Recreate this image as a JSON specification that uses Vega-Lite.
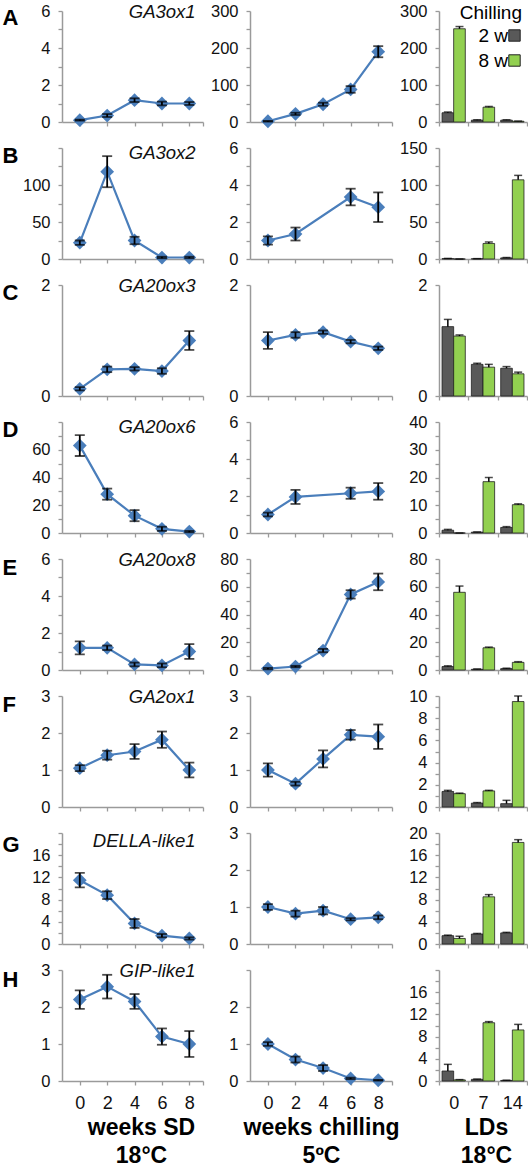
{
"$schema":"https://vega.github.io/schema/vega-lite/v6.json",
"padding":{"left":2,"top":3,"right":0,"bottom":0},
"datasets":{
"L":[
{"g":"GA3ox1","c":"SD","w":0,"v":0.1,"e":0.03},{"g":"GA3ox1","c":"SD","w":2,"v":0.35,"e":0.08},{"g":"GA3ox1","c":"SD","w":4,"v":1.18,"e":0.1},{"g":"GA3ox1","c":"SD","w":6,"v":1.0,"e":0.1},{"g":"GA3ox1","c":"SD","w":8,"v":1.0,"e":0.08},
{"g":"GA3ox1","c":"CH","w":0,"v":2,"e":1},{"g":"GA3ox1","c":"CH","w":2,"v":22,"e":3},{"g":"GA3ox1","c":"CH","w":4,"v":48,"e":4},{"g":"GA3ox1","c":"CH","w":6,"v":88,"e":9},{"g":"GA3ox1","c":"CH","w":8,"v":190,"e":15},
{"g":"GA3ox2","c":"SD","w":0,"v":22,"e":3},{"g":"GA3ox2","c":"SD","w":2,"v":118,"e":21},{"g":"GA3ox2","c":"SD","w":4,"v":25,"e":5},{"g":"GA3ox2","c":"SD","w":6,"v":2,"e":1},{"g":"GA3ox2","c":"SD","w":8,"v":2,"e":1},
{"g":"GA3ox2","c":"CH","w":0,"v":1.0,"e":0.22},{"g":"GA3ox2","c":"CH","w":2,"v":1.35,"e":0.35},{"g":"GA3ox2","c":"CH","w":6,"v":3.35,"e":0.45},{"g":"GA3ox2","c":"CH","w":8,"v":2.8,"e":0.8},
{"g":"GA20ox3","c":"SD","w":0,"v":0.13,"e":0.03},{"g":"GA20ox3","c":"SD","w":2,"v":0.48,"e":0.05},{"g":"GA20ox3","c":"SD","w":4,"v":0.49,"e":0.03},{"g":"GA20ox3","c":"SD","w":6,"v":0.45,"e":0.05},{"g":"GA20ox3","c":"SD","w":8,"v":1.0,"e":0.17},
{"g":"GA20ox3","c":"CH","w":0,"v":1.0,"e":0.15},{"g":"GA20ox3","c":"CH","w":2,"v":1.1,"e":0.05},{"g":"GA20ox3","c":"CH","w":4,"v":1.15,"e":0.03},{"g":"GA20ox3","c":"CH","w":6,"v":0.98,"e":0.03},{"g":"GA20ox3","c":"CH","w":8,"v":0.86,"e":0.03},
{"g":"GA20ox6","c":"SD","w":0,"v":63,"e":7.5},{"g":"GA20ox6","c":"SD","w":2,"v":28,"e":4},{"g":"GA20ox6","c":"SD","w":4,"v":12.5,"e":4},{"g":"GA20ox6","c":"SD","w":6,"v":3,"e":1.5},{"g":"GA20ox6","c":"SD","w":8,"v":1,"e":0.5},
{"g":"GA20ox6","c":"CH","w":0,"v":1.0,"e":0.1},{"g":"GA20ox6","c":"CH","w":2,"v":1.95,"e":0.38},{"g":"GA20ox6","c":"CH","w":6,"v":2.15,"e":0.3},{"g":"GA20ox6","c":"CH","w":8,"v":2.25,"e":0.45},
{"g":"GA20ox8","c":"SD","w":0,"v":1.2,"e":0.35},{"g":"GA20ox8","c":"SD","w":2,"v":1.2,"e":0.12},{"g":"GA20ox8","c":"SD","w":4,"v":0.3,"e":0.1},{"g":"GA20ox8","c":"SD","w":6,"v":0.25,"e":0.1},{"g":"GA20ox8","c":"SD","w":8,"v":1.0,"e":0.4},
{"g":"GA20ox8","c":"CH","w":0,"v":1,"e":0.5},{"g":"GA20ox8","c":"CH","w":2,"v":2.5,"e":0.5},{"g":"GA20ox8","c":"CH","w":4,"v":14,"e":1.2},{"g":"GA20ox8","c":"CH","w":6,"v":54.5,"e":3},{"g":"GA20ox8","c":"CH","w":8,"v":63.5,"e":6},
{"g":"GA2ox1","c":"SD","w":0,"v":1.05,"e":0.08},{"g":"GA2ox1","c":"SD","w":2,"v":1.4,"e":0.12},{"g":"GA2ox1","c":"SD","w":4,"v":1.5,"e":0.2},{"g":"GA2ox1","c":"SD","w":6,"v":1.82,"e":0.22},{"g":"GA2ox1","c":"SD","w":8,"v":1.0,"e":0.2},
{"g":"GA2ox1","c":"CH","w":0,"v":1.0,"e":0.18},{"g":"GA2ox1","c":"CH","w":2,"v":0.63,"e":0.05},{"g":"GA2ox1","c":"CH","w":4,"v":1.3,"e":0.23},{"g":"GA2ox1","c":"CH","w":6,"v":1.95,"e":0.13},{"g":"GA2ox1","c":"CH","w":8,"v":1.9,"e":0.33},
{"g":"DELLA-like1","c":"SD","w":0,"v":11.5,"e":1.3},{"g":"DELLA-like1","c":"SD","w":2,"v":8.8,"e":0.7},{"g":"DELLA-like1","c":"SD","w":4,"v":3.7,"e":0.8},{"g":"DELLA-like1","c":"SD","w":6,"v":1.5,"e":0.3},{"g":"DELLA-like1","c":"SD","w":8,"v":1.0,"e":0.2},
{"g":"DELLA-like1","c":"CH","w":0,"v":1.0,"e":0.08},{"g":"DELLA-like1","c":"CH","w":2,"v":0.82,"e":0.08},{"g":"DELLA-like1","c":"CH","w":4,"v":0.9,"e":0.1},{"g":"DELLA-like1","c":"CH","w":6,"v":0.67,"e":0.03},{"g":"DELLA-like1","c":"CH","w":8,"v":0.72,"e":0.05},
{"g":"GIP-like1","c":"SD","w":0,"v":2.2,"e":0.25},{"g":"GIP-like1","c":"SD","w":2,"v":2.55,"e":0.32},{"g":"GIP-like1","c":"SD","w":4,"v":2.15,"e":0.2},{"g":"GIP-like1","c":"SD","w":6,"v":1.2,"e":0.22},{"g":"GIP-like1","c":"SD","w":8,"v":1.0,"e":0.35},
{"g":"GIP-like1","c":"CH","w":0,"v":1.0,"e":0.05},{"g":"GIP-like1","c":"CH","w":2,"v":0.58,"e":0.08},{"g":"GIP-like1","c":"CH","w":4,"v":0.35,"e":0.08},{"g":"GIP-like1","c":"CH","w":6,"v":0.07,"e":0.02},{"g":"GIP-like1","c":"CH","w":8,"v":0.02,"e":0.01}
],
"B":[
{"g":"GA3ox1","d":"0","ch":"2 w","v":25,"hi":27},{"g":"GA3ox1","d":"0","ch":"8 w","v":252,"hi":258},{"g":"GA3ox1","d":"7","ch":"2 w","v":5,"hi":6},{"g":"GA3ox1","d":"7","ch":"8 w","v":40,"hi":42},{"g":"GA3ox1","d":"14","ch":"2 w","v":5,"hi":6},{"g":"GA3ox1","d":"14","ch":"8 w","v":2,"hi":2.5},
{"g":"GA3ox2","d":"0","ch":"2 w","v":0.5,"hi":0.8},{"g":"GA3ox2","d":"0","ch":"8 w","v":0,"hi":0},{"g":"GA3ox2","d":"7","ch":"2 w","v":0.3,"hi":0.5},{"g":"GA3ox2","d":"7","ch":"8 w","v":21,"hi":23},{"g":"GA3ox2","d":"14","ch":"2 w","v":1.5,"hi":2},{"g":"GA3ox2","d":"14","ch":"8 w","v":107,"hi":113},
{"g":"GA20ox3","d":"0","ch":"2 w","v":1.25,"hi":1.38},{"g":"GA20ox3","d":"0","ch":"8 w","v":1.08,"hi":1.1},{"g":"GA20ox3","d":"7","ch":"2 w","v":0.57,"hi":0.59},{"g":"GA20ox3","d":"7","ch":"8 w","v":0.52,"hi":0.57},{"g":"GA20ox3","d":"14","ch":"2 w","v":0.5,"hi":0.53},{"g":"GA20ox3","d":"14","ch":"8 w","v":0.4,"hi":0.43},
{"g":"GA20ox6","d":"0","ch":"2 w","v":1,"hi":1.3},{"g":"GA20ox6","d":"0","ch":"8 w","v":0,"hi":0},{"g":"GA20ox6","d":"7","ch":"2 w","v":0.3,"hi":0.4},{"g":"GA20ox6","d":"7","ch":"8 w","v":18.5,"hi":20},{"g":"GA20ox6","d":"14","ch":"2 w","v":2,"hi":2.3},{"g":"GA20ox6","d":"14","ch":"8 w","v":10.2,"hi":10.5},
{"g":"GA20ox8","d":"0","ch":"2 w","v":2.5,"hi":3},{"g":"GA20ox8","d":"0","ch":"8 w","v":56,"hi":60.5},{"g":"GA20ox8","d":"7","ch":"2 w","v":0.5,"hi":0.8},{"g":"GA20ox8","d":"7","ch":"8 w","v":16,"hi":16.5},{"g":"GA20ox8","d":"14","ch":"2 w","v":1,"hi":1.3},{"g":"GA20ox8","d":"14","ch":"8 w","v":5.5,"hi":6},
{"g":"GA2ox1","d":"0","ch":"2 w","v":1.4,"hi":1.5},{"g":"GA2ox1","d":"0","ch":"8 w","v":1.2,"hi":1.25},{"g":"GA2ox1","d":"7","ch":"2 w","v":0.35,"hi":0.4},{"g":"GA2ox1","d":"7","ch":"8 w","v":1.45,"hi":1.5},{"g":"GA2ox1","d":"14","ch":"2 w","v":0.3,"hi":0.6},{"g":"GA2ox1","d":"14","ch":"8 w","v":9.5,"hi":10},
{"g":"DELLA-like1","d":"0","ch":"2 w","v":1.5,"hi":1.6},{"g":"DELLA-like1","d":"0","ch":"8 w","v":1.0,"hi":1.4},{"g":"DELLA-like1","d":"7","ch":"2 w","v":1.8,"hi":1.9},{"g":"DELLA-like1","d":"7","ch":"8 w","v":8.5,"hi":8.9},{"g":"DELLA-like1","d":"14","ch":"2 w","v":2,"hi":2.1},{"g":"DELLA-like1","d":"14","ch":"8 w","v":18.3,"hi":18.8},
{"g":"GIP-like1","d":"0","ch":"2 w","v":1.8,"hi":3.0},{"g":"GIP-like1","d":"0","ch":"8 w","v":0.2,"hi":0.25},{"g":"GIP-like1","d":"7","ch":"2 w","v":0.3,"hi":0.35},{"g":"GIP-like1","d":"7","ch":"8 w","v":10.5,"hi":10.7},{"g":"GIP-like1","d":"14","ch":"2 w","v":0.1,"hi":0.15},{"g":"GIP-like1","d":"14","ch":"8 w","v":9.2,"hi":10.2}
]
},
"columns":3,
"bounds":"flush",
"align":"each",
"spacing":{"row":26,"column":47},
"concat":[
{"data":{"name":"L"},"transform":[{"filter":"datum.g=='GA3ox1'&&datum.c=='SD'"}],"width":141,"height":111,"title":{"text":"GA3ox1"},
 "encoding":{"x":{"field":"w","type":"quantitative","scale":{"domain":[-1.3,9],"nice":false,"zero":false},"axis":{"values":[0,2,4,6,8,9],"labels":false,"title":null}},
 "y":{"field":"v","type":"quantitative","scale":{"domain":[0,6],"nice":false},"axis":{"values":[0,1,2,3,4,5,6],"format":"d","labelExpr":"datum.value%2?'':datum.label","title":"A","titleY":13}}},
 "layer":[{"mark":{"type":"line","color":"#4A7EBB","strokeWidth":2.2}},{"mark":{"type":"point","shape":"diamond","filled":true,"size":190,"color":"#4A7EBB","opacity":1}},{"mark":{"type":"errorbar","color":"black","thickness":1.8,"ticks":{"size":10,"color":"black","thickness":1.8}},"encoding":{"yError":{"field":"e"}}}]},
{"data":{"name":"L"},"transform":[{"filter":"datum.g=='GA3ox1'&&datum.c=='CH'"}],"width":142,"height":111,
 "encoding":{"x":{"field":"w","type":"quantitative","scale":{"domain":[-1.3,9],"nice":false,"zero":false},"axis":{"values":[0,2,4,6,8,9],"labels":false,"title":null}},
 "y":{"field":"v","type":"quantitative","scale":{"domain":[0,300],"nice":false},"axis":{"values":[0,50,100,150,200,250,300],"format":"d","labelExpr":"datum.value%100?'':datum.label","title":null}}},
 "layer":[{"mark":{"type":"line","color":"#4A7EBB","strokeWidth":2.2}},{"mark":{"type":"point","shape":"diamond","filled":true,"size":190,"color":"#4A7EBB","opacity":1}},{"mark":{"type":"errorbar","color":"black","thickness":1.8,"ticks":{"size":10,"color":"black","thickness":1.8}},"encoding":{"yError":{"field":"e"}}}]},
{"data":{"name":"B"},"transform":[{"filter":"datum.g=='GA3ox1'"}],"width":88,"height":111,
 "encoding":{"x":{"field":"d","type":"nominal","sort":["0","7","14"],"scale":{"paddingInner":0,"paddingOuter":0},"axis":{"tickBand":"extent","labels":false,"title":null}},
 "xOffset":{"field":"ch","type":"nominal","scale":{"paddingInner":0,"paddingOuter":0.26}},
 "y":{"field":"v","type":"quantitative","scale":{"domain":[0,300],"nice":false},"axis":{"values":[0,50,100,150,200,250,300],"format":"d","labelExpr":"datum.value%100?'':datum.label","title":null}}},
 "layer":[{"mark":{"type":"bar","stroke":"#222","strokeWidth":0.8},"encoding":{"color":{"field":"ch","type":"nominal","scale":{"domain":["2 w","8 w"],"range":["#595959","#92D050"]},"legend":{"title":"Chilling","orient":"none","legendX":398,"legendY":-7,"titleAnchor":"end","titleFontSize":19,"titleFontWeight":"normal","titleColor":"#000","titlePadding":3,"labelFontSize":19,"labelColor":"#000","symbolType":"square","symbolSize":130,"symbolStrokeColor":"#222","symbolStrokeWidth":1,"labelAlign":"right","labelOffset":-16,"rowPadding":5}}}},
 {"mark":{"type":"rule","color":"black","strokeWidth":1.5},"encoding":{"y2":{"field":"hi"}}},
 {"mark":{"type":"tick","color":"black","size":8,"thickness":1.5},"encoding":{"y":{"field":"hi","type":"quantitative","scale":{"domain":[0,300],"nice":false},"title":null}}}]},

{"data":{"name":"L"},"transform":[{"filter":"datum.g=='GA3ox2'&&datum.c=='SD'"}],"width":141,"height":111,"title":{"text":"GA3ox2"},
 "encoding":{"x":{"field":"w","type":"quantitative","scale":{"domain":[-1.3,9],"nice":false,"zero":false},"axis":{"values":[0,2,4,6,8,9],"labels":false,"title":null}},
 "y":{"field":"v","type":"quantitative","scale":{"domain":[0,150],"nice":false},"axis":{"values":[0,25,50,75,100,125,150],"format":"d","labelExpr":"datum.value%50||datum.value==150?'':datum.label","title":"B","titleY":14}}},
 "layer":[{"mark":{"type":"line","color":"#4A7EBB","strokeWidth":2.2}},{"mark":{"type":"point","shape":"diamond","filled":true,"size":190,"color":"#4A7EBB","opacity":1}},{"mark":{"type":"errorbar","color":"black","thickness":1.8,"ticks":{"size":10,"color":"black","thickness":1.8}},"encoding":{"yError":{"field":"e"}}}]},
{"data":{"name":"L"},"transform":[{"filter":"datum.g=='GA3ox2'&&datum.c=='CH'"}],"width":142,"height":111,
 "encoding":{"x":{"field":"w","type":"quantitative","scale":{"domain":[-1.3,9],"nice":false,"zero":false},"axis":{"values":[0,2,4,6,8,9],"labels":false,"title":null}},
 "y":{"field":"v","type":"quantitative","scale":{"domain":[0,6],"nice":false},"axis":{"values":[0,1,2,3,4,5,6],"format":"d","labelExpr":"datum.value%2?'':datum.label","title":null}}},
 "layer":[{"mark":{"type":"line","color":"#4A7EBB","strokeWidth":2.2}},{"mark":{"type":"point","shape":"diamond","filled":true,"size":190,"color":"#4A7EBB","opacity":1}},{"mark":{"type":"errorbar","color":"black","thickness":1.8,"ticks":{"size":10,"color":"black","thickness":1.8}},"encoding":{"yError":{"field":"e"}}}]},
{"data":{"name":"B"},"transform":[{"filter":"datum.g=='GA3ox2'"}],"width":88,"height":111,
 "encoding":{"x":{"field":"d","type":"nominal","sort":["0","7","14"],"scale":{"paddingInner":0,"paddingOuter":0},"axis":{"tickBand":"extent","labels":false,"title":null}},
 "xOffset":{"field":"ch","type":"nominal","scale":{"paddingInner":0,"paddingOuter":0.26}},
 "y":{"field":"v","type":"quantitative","scale":{"domain":[0,150],"nice":false},"axis":{"values":[0,25,50,75,100,125,150],"format":"d","labelExpr":"datum.value%50?'':datum.label","title":null}}},
 "layer":[{"mark":{"type":"bar","stroke":"#222","strokeWidth":0.8},"encoding":{"color":{"field":"ch","type":"nominal"}}},
 {"mark":{"type":"rule","color":"black","strokeWidth":1.5},"encoding":{"y2":{"field":"hi"}}},
 {"mark":{"type":"tick","color":"black","size":8,"thickness":1.5},"encoding":{"y":{"field":"hi","type":"quantitative","scale":{"domain":[0,150],"nice":false},"title":null}}}]},

{"data":{"name":"L"},"transform":[{"filter":"datum.g=='GA20ox3'&&datum.c=='SD'"}],"width":141,"height":111,"title":{"text":"GA20ox3"},
 "encoding":{"x":{"field":"w","type":"quantitative","scale":{"domain":[-1.3,9],"nice":false,"zero":false},"axis":{"values":[0,2,4,6,8,9],"labels":false,"title":null}},
 "y":{"field":"v","type":"quantitative","scale":{"domain":[0,2],"nice":false},"axis":{"values":[0,0.25,0.5,0.75,1,1.25,1.5,1.75,2],"format":"d","labelExpr":"datum.value%1?'':datum.label","title":"C","titleY":14}}},
 "layer":[{"mark":{"type":"line","color":"#4A7EBB","strokeWidth":2.2}},{"mark":{"type":"point","shape":"diamond","filled":true,"size":190,"color":"#4A7EBB","opacity":1}},{"mark":{"type":"errorbar","color":"black","thickness":1.8,"ticks":{"size":10,"color":"black","thickness":1.8}},"encoding":{"yError":{"field":"e"}}}]},
{"data":{"name":"L"},"transform":[{"filter":"datum.g=='GA20ox3'&&datum.c=='CH'"}],"width":142,"height":111,
 "encoding":{"x":{"field":"w","type":"quantitative","scale":{"domain":[-1.3,9],"nice":false,"zero":false},"axis":{"values":[0,2,4,6,8,9],"labels":false,"title":null}},
 "y":{"field":"v","type":"quantitative","scale":{"domain":[0,2],"nice":false},"axis":{"values":[0,0.25,0.5,0.75,1,1.25,1.5,1.75,2],"format":"d","labelExpr":"datum.value%1?'':datum.label","title":null}}},
 "layer":[{"mark":{"type":"line","color":"#4A7EBB","strokeWidth":2.2}},{"mark":{"type":"point","shape":"diamond","filled":true,"size":190,"color":"#4A7EBB","opacity":1}},{"mark":{"type":"errorbar","color":"black","thickness":1.8,"ticks":{"size":10,"color":"black","thickness":1.8}},"encoding":{"yError":{"field":"e"}}}]},
{"data":{"name":"B"},"transform":[{"filter":"datum.g=='GA20ox3'"}],"width":88,"height":111,
 "encoding":{"x":{"field":"d","type":"nominal","sort":["0","7","14"],"scale":{"paddingInner":0,"paddingOuter":0},"axis":{"tickBand":"extent","labels":false,"title":null}},
 "xOffset":{"field":"ch","type":"nominal","scale":{"paddingInner":0,"paddingOuter":0.26}},
 "y":{"field":"v","type":"quantitative","scale":{"domain":[0,2],"nice":false},"axis":{"values":[0,0.25,0.5,0.75,1,1.25,1.5,1.75,2],"format":"d","labelExpr":"datum.value%1?'':datum.label","title":null}}},
 "layer":[{"mark":{"type":"bar","stroke":"#222","strokeWidth":0.8},"encoding":{"color":{"field":"ch","type":"nominal"}}},
 {"mark":{"type":"rule","color":"black","strokeWidth":1.5},"encoding":{"y2":{"field":"hi"}}},
 {"mark":{"type":"tick","color":"black","size":8,"thickness":1.5},"encoding":{"y":{"field":"hi","type":"quantitative","scale":{"domain":[0,2],"nice":false},"title":null}}}]},

{"data":{"name":"L"},"transform":[{"filter":"datum.g=='GA20ox6'&&datum.c=='SD'"}],"width":141,"height":111,"title":{"text":"GA20ox6"},
 "encoding":{"x":{"field":"w","type":"quantitative","scale":{"domain":[-1.3,9],"nice":false,"zero":false},"axis":{"values":[0,2,4,6,8,9],"labels":false,"title":null}},
 "y":{"field":"v","type":"quantitative","scale":{"domain":[0,80],"nice":false},"axis":{"values":[0,10,20,30,40,50,60,70,80],"format":"d","labelExpr":"datum.value%20||datum.value==80?'':datum.label","title":"D","titleY":14}}},
 "layer":[{"mark":{"type":"line","color":"#4A7EBB","strokeWidth":2.2}},{"mark":{"type":"point","shape":"diamond","filled":true,"size":190,"color":"#4A7EBB","opacity":1}},{"mark":{"type":"errorbar","color":"black","thickness":1.8,"ticks":{"size":10,"color":"black","thickness":1.8}},"encoding":{"yError":{"field":"e"}}}]},
{"data":{"name":"L"},"transform":[{"filter":"datum.g=='GA20ox6'&&datum.c=='CH'"}],"width":142,"height":111,
 "encoding":{"x":{"field":"w","type":"quantitative","scale":{"domain":[-1.3,9],"nice":false,"zero":false},"axis":{"values":[0,2,4,6,8,9],"labels":false,"title":null}},
 "y":{"field":"v","type":"quantitative","scale":{"domain":[0,6],"nice":false},"axis":{"values":[0,1,2,3,4,5,6],"format":"d","labelExpr":"datum.value%2?'':datum.label","title":null}}},
 "layer":[{"mark":{"type":"line","color":"#4A7EBB","strokeWidth":2.2}},{"mark":{"type":"point","shape":"diamond","filled":true,"size":190,"color":"#4A7EBB","opacity":1}},{"mark":{"type":"errorbar","color":"black","thickness":1.8,"ticks":{"size":10,"color":"black","thickness":1.8}},"encoding":{"yError":{"field":"e"}}}]},
{"data":{"name":"B"},"transform":[{"filter":"datum.g=='GA20ox6'"}],"width":88,"height":111,
 "encoding":{"x":{"field":"d","type":"nominal","sort":["0","7","14"],"scale":{"paddingInner":0,"paddingOuter":0},"axis":{"tickBand":"extent","labels":false,"title":null}},
 "xOffset":{"field":"ch","type":"nominal","scale":{"paddingInner":0,"paddingOuter":0.26}},
 "y":{"field":"v","type":"quantitative","scale":{"domain":[0,40],"nice":false},"axis":{"values":[0,5,10,15,20,25,30,35,40],"format":"d","labelExpr":"datum.value%10?'':datum.label","title":null}}},
 "layer":[{"mark":{"type":"bar","stroke":"#222","strokeWidth":0.8},"encoding":{"color":{"field":"ch","type":"nominal"}}},
 {"mark":{"type":"rule","color":"black","strokeWidth":1.5},"encoding":{"y2":{"field":"hi"}}},
 {"mark":{"type":"tick","color":"black","size":8,"thickness":1.5},"encoding":{"y":{"field":"hi","type":"quantitative","scale":{"domain":[0,40],"nice":false},"title":null}}}]},

{"data":{"name":"L"},"transform":[{"filter":"datum.g=='GA20ox8'&&datum.c=='SD'"}],"width":141,"height":111,"title":{"text":"GA20ox8"},
 "encoding":{"x":{"field":"w","type":"quantitative","scale":{"domain":[-1.3,9],"nice":false,"zero":false},"axis":{"values":[0,2,4,6,8,9],"labels":false,"title":null}},
 "y":{"field":"v","type":"quantitative","scale":{"domain":[0,6],"nice":false},"axis":{"values":[0,1,2,3,4,5,6],"format":"d","labelExpr":"datum.value%2?'':datum.label","title":"E","titleY":15}}},
 "layer":[{"mark":{"type":"line","color":"#4A7EBB","strokeWidth":2.2}},{"mark":{"type":"point","shape":"diamond","filled":true,"size":190,"color":"#4A7EBB","opacity":1}},{"mark":{"type":"errorbar","color":"black","thickness":1.8,"ticks":{"size":10,"color":"black","thickness":1.8}},"encoding":{"yError":{"field":"e"}}}]},
{"data":{"name":"L"},"transform":[{"filter":"datum.g=='GA20ox8'&&datum.c=='CH'"}],"width":142,"height":111,
 "encoding":{"x":{"field":"w","type":"quantitative","scale":{"domain":[-1.3,9],"nice":false,"zero":false},"axis":{"values":[0,2,4,6,8,9],"labels":false,"title":null}},
 "y":{"field":"v","type":"quantitative","scale":{"domain":[0,80],"nice":false},"axis":{"values":[0,10,20,30,40,50,60,70,80],"format":"d","labelExpr":"datum.value%20?'':datum.label","title":null}}},
 "layer":[{"mark":{"type":"line","color":"#4A7EBB","strokeWidth":2.2}},{"mark":{"type":"point","shape":"diamond","filled":true,"size":190,"color":"#4A7EBB","opacity":1}},{"mark":{"type":"errorbar","color":"black","thickness":1.8,"ticks":{"size":10,"color":"black","thickness":1.8}},"encoding":{"yError":{"field":"e"}}}]},
{"data":{"name":"B"},"transform":[{"filter":"datum.g=='GA20ox8'"}],"width":88,"height":111,
 "encoding":{"x":{"field":"d","type":"nominal","sort":["0","7","14"],"scale":{"paddingInner":0,"paddingOuter":0},"axis":{"tickBand":"extent","labels":false,"title":null}},
 "xOffset":{"field":"ch","type":"nominal","scale":{"paddingInner":0,"paddingOuter":0.26}},
 "y":{"field":"v","type":"quantitative","scale":{"domain":[0,80],"nice":false},"axis":{"values":[0,10,20,30,40,50,60,70,80],"format":"d","labelExpr":"datum.value%20?'':datum.label","title":null}}},
 "layer":[{"mark":{"type":"bar","stroke":"#222","strokeWidth":0.8},"encoding":{"color":{"field":"ch","type":"nominal"}}},
 {"mark":{"type":"rule","color":"black","strokeWidth":1.5},"encoding":{"y2":{"field":"hi"}}},
 {"mark":{"type":"tick","color":"black","size":8,"thickness":1.5},"encoding":{"y":{"field":"hi","type":"quantitative","scale":{"domain":[0,80],"nice":false},"title":null}}}]},

{"data":{"name":"L"},"transform":[{"filter":"datum.g=='GA2ox1'&&datum.c=='SD'"}],"width":141,"height":111,"title":{"text":"GA2ox1"},
 "encoding":{"x":{"field":"w","type":"quantitative","scale":{"domain":[-1.3,9],"nice":false,"zero":false},"axis":{"values":[0,2,4,6,8,9],"labels":false,"title":null}},
 "y":{"field":"v","type":"quantitative","scale":{"domain":[0,3],"nice":false},"axis":{"values":[0,0.5,1,1.5,2,2.5,3],"format":"d","labelExpr":"datum.value%1?'':datum.label","title":"F","titleY":15}}},
 "layer":[{"mark":{"type":"line","color":"#4A7EBB","strokeWidth":2.2}},{"mark":{"type":"point","shape":"diamond","filled":true,"size":190,"color":"#4A7EBB","opacity":1}},{"mark":{"type":"errorbar","color":"black","thickness":1.8,"ticks":{"size":10,"color":"black","thickness":1.8}},"encoding":{"yError":{"field":"e"}}}]},
{"data":{"name":"L"},"transform":[{"filter":"datum.g=='GA2ox1'&&datum.c=='CH'"}],"width":142,"height":111,
 "encoding":{"x":{"field":"w","type":"quantitative","scale":{"domain":[-1.3,9],"nice":false,"zero":false},"axis":{"values":[0,2,4,6,8,9],"labels":false,"title":null}},
 "y":{"field":"v","type":"quantitative","scale":{"domain":[0,3],"nice":false},"axis":{"values":[0,0.5,1,1.5,2,2.5,3],"format":"d","labelExpr":"datum.value%1?'':datum.label","title":null}}},
 "layer":[{"mark":{"type":"line","color":"#4A7EBB","strokeWidth":2.2}},{"mark":{"type":"point","shape":"diamond","filled":true,"size":190,"color":"#4A7EBB","opacity":1}},{"mark":{"type":"errorbar","color":"black","thickness":1.8,"ticks":{"size":10,"color":"black","thickness":1.8}},"encoding":{"yError":{"field":"e"}}}]},
{"data":{"name":"B"},"transform":[{"filter":"datum.g=='GA2ox1'"}],"width":88,"height":111,
 "encoding":{"x":{"field":"d","type":"nominal","sort":["0","7","14"],"scale":{"paddingInner":0,"paddingOuter":0},"axis":{"tickBand":"extent","labels":false,"title":null}},
 "xOffset":{"field":"ch","type":"nominal","scale":{"paddingInner":0,"paddingOuter":0.26}},
 "y":{"field":"v","type":"quantitative","scale":{"domain":[0,10],"nice":false},"axis":{"values":[0,1,2,3,4,5,6,7,8,9,10],"format":"d","labelExpr":"datum.value%2?'':datum.label","title":null}}},
 "layer":[{"mark":{"type":"bar","stroke":"#222","strokeWidth":0.8},"encoding":{"color":{"field":"ch","type":"nominal"}}},
 {"mark":{"type":"rule","color":"black","strokeWidth":1.5},"encoding":{"y2":{"field":"hi"}}},
 {"mark":{"type":"tick","color":"black","size":8,"thickness":1.5},"encoding":{"y":{"field":"hi","type":"quantitative","scale":{"domain":[0,10],"nice":false},"title":null}}}]},

{"data":{"name":"L"},"transform":[{"filter":"datum.g=='DELLA-like1'&&datum.c=='SD'"}],"width":141,"height":111,"title":{"text":"DELLA-like1"},
 "encoding":{"x":{"field":"w","type":"quantitative","scale":{"domain":[-1.3,9],"nice":false,"zero":false},"axis":{"values":[0,2,4,6,8,9],"labels":false,"title":null}},
 "y":{"field":"v","type":"quantitative","scale":{"domain":[0,20],"nice":false},"axis":{"values":[0,2,4,6,8,10,12,14,16,18,20],"format":"d","labelExpr":"datum.value%4||datum.value==20?'':datum.label","title":"G","titleY":18}}},
 "layer":[{"mark":{"type":"line","color":"#4A7EBB","strokeWidth":2.2}},{"mark":{"type":"point","shape":"diamond","filled":true,"size":190,"color":"#4A7EBB","opacity":1}},{"mark":{"type":"errorbar","color":"black","thickness":1.8,"ticks":{"size":10,"color":"black","thickness":1.8}},"encoding":{"yError":{"field":"e"}}}]},
{"data":{"name":"L"},"transform":[{"filter":"datum.g=='DELLA-like1'&&datum.c=='CH'"}],"width":142,"height":111,
 "encoding":{"x":{"field":"w","type":"quantitative","scale":{"domain":[-1.3,9],"nice":false,"zero":false},"axis":{"values":[0,2,4,6,8,9],"labels":false,"title":null}},
 "y":{"field":"v","type":"quantitative","scale":{"domain":[0,3],"nice":false},"axis":{"values":[0,0.5,1,1.5,2,2.5,3],"format":"d","labelExpr":"datum.value%1?'':datum.label","title":null}}},
 "layer":[{"mark":{"type":"line","color":"#4A7EBB","strokeWidth":2.2}},{"mark":{"type":"point","shape":"diamond","filled":true,"size":190,"color":"#4A7EBB","opacity":1}},{"mark":{"type":"errorbar","color":"black","thickness":1.8,"ticks":{"size":10,"color":"black","thickness":1.8}},"encoding":{"yError":{"field":"e"}}}]},
{"data":{"name":"B"},"transform":[{"filter":"datum.g=='DELLA-like1'"}],"width":88,"height":111,
 "encoding":{"x":{"field":"d","type":"nominal","sort":["0","7","14"],"scale":{"paddingInner":0,"paddingOuter":0},"axis":{"tickBand":"extent","labels":false,"title":null}},
 "xOffset":{"field":"ch","type":"nominal","scale":{"paddingInner":0,"paddingOuter":0.26}},
 "y":{"field":"v","type":"quantitative","scale":{"domain":[0,20],"nice":false},"axis":{"values":[0,2,4,6,8,10,12,14,16,18,20],"format":"d","labelExpr":"datum.value%4?'':datum.label","title":null}}},
 "layer":[{"mark":{"type":"bar","stroke":"#222","strokeWidth":0.8},"encoding":{"color":{"field":"ch","type":"nominal"}}},
 {"mark":{"type":"rule","color":"black","strokeWidth":1.5},"encoding":{"y2":{"field":"hi"}}},
 {"mark":{"type":"tick","color":"black","size":8,"thickness":1.5},"encoding":{"y":{"field":"hi","type":"quantitative","scale":{"domain":[0,20],"nice":false},"title":null}}}]},

{"data":{"name":"L"},"transform":[{"filter":"datum.g=='GIP-like1'&&datum.c=='SD'"}],"width":141,"height":111,"title":{"text":"GIP-like1"},
 "encoding":{"x":{"field":"w","type":"quantitative","scale":{"domain":[-1.3,9],"nice":false,"zero":false},"axis":{"values":[0,2,4,6,8,9],"format":"d","labelExpr":"datum.value==9?'':datum.label","title":["weeks SD","18°C"],"titleX":79}},
 "y":{"field":"v","type":"quantitative","scale":{"domain":[0,3],"nice":false},"axis":{"values":[0,0.5,1,1.5,2,2.5,3],"format":"d","labelExpr":"datum.value%1?'':datum.label","title":"H","titleY":16}}},
 "layer":[{"mark":{"type":"line","color":"#4A7EBB","strokeWidth":2.2}},{"mark":{"type":"point","shape":"diamond","filled":true,"size":190,"color":"#4A7EBB","opacity":1}},{"mark":{"type":"errorbar","color":"black","thickness":1.8,"ticks":{"size":10,"color":"black","thickness":1.8}},"encoding":{"yError":{"field":"e"}}}]},
{"data":{"name":"L"},"transform":[{"filter":"datum.g=='GIP-like1'&&datum.c=='CH'"}],"width":142,"height":111,
 "encoding":{"x":{"field":"w","type":"quantitative","scale":{"domain":[-1.3,9],"nice":false,"zero":false},"axis":{"values":[0,2,4,6,8,9],"format":"d","labelExpr":"datum.value==9?'':datum.label","title":["weeks chilling","5ºC"]}},
 "y":{"field":"v","type":"quantitative","scale":{"domain":[0,3],"nice":false},"axis":{"values":[0,0.5,1,1.5,2,2.5,3],"format":"d","labelExpr":"datum.value%1||datum.value==3?'':datum.label","title":null}}},
 "layer":[{"mark":{"type":"line","color":"#4A7EBB","strokeWidth":2.2}},{"mark":{"type":"point","shape":"diamond","filled":true,"size":190,"color":"#4A7EBB","opacity":1}},{"mark":{"type":"errorbar","color":"black","thickness":1.8,"ticks":{"size":10,"color":"black","thickness":1.8}},"encoding":{"yError":{"field":"e"}}}]},
{"data":{"name":"B"},"transform":[{"filter":"datum.g=='GIP-like1'"}],"width":88,"height":111,
 "encoding":{"x":{"field":"d","type":"nominal","sort":["0","7","14"],"scale":{"paddingInner":0,"paddingOuter":0},"axis":{"tickBand":"extent","title":["LDs","18°C"],"titleX":47}},
 "xOffset":{"field":"ch","type":"nominal","scale":{"paddingInner":0,"paddingOuter":0.26}},
 "y":{"field":"v","type":"quantitative","scale":{"domain":[0,20],"nice":false},"axis":{"values":[0,2,4,6,8,10,12,14,16,18,20],"format":"d","labelExpr":"datum.value%4||datum.value==20?'':datum.label","title":null}}},
 "layer":[{"mark":{"type":"bar","stroke":"#222","strokeWidth":0.8},"encoding":{"color":{"field":"ch","type":"nominal"}}},
 {"mark":{"type":"rule","color":"black","strokeWidth":1.5},"encoding":{"y2":{"field":"hi"}}},
 {"mark":{"type":"tick","color":"black","size":8,"thickness":1.5},"encoding":{"y":{"field":"hi","type":"quantitative","scale":{"domain":[0,20],"nice":false},"title":null}}}]}
],
"config":{
 "view":{"stroke":null},
 "font":"Liberation Sans",
 "title":{"anchor":"end","offset":-18.5,"dx":-8,"fontSize":18.5,"fontStyle":"italic","fontWeight":"normal","font":"Liberation Sans","color":"#111"},
 "axis":{"domainColor":"#9A9A9A","domainWidth":1.5,"tickColor":"#9A9A9A","tickWidth":1.3,"tickSize":4,"labelFont":"Liberation Sans","labelFontSize":16.5,"labelColor":"#111","labelPadding":8,"grid":false,"titleFont":"Liberation Sans","titleColor":"#000"},
 "axisX":{"labelFontSize":18,"labelPadding":9,"labelAngle":0,"titleFontSize":23,"titleFontWeight":"bold","titleLineHeight":28,"titlePadding":4},
 "axisY":{"titleAngle":0,"titleX":-60,"titleAlign":"left","titleBaseline":"alphabetic","titleFontSize":22,"titleFontWeight":"bold"}
}
}
